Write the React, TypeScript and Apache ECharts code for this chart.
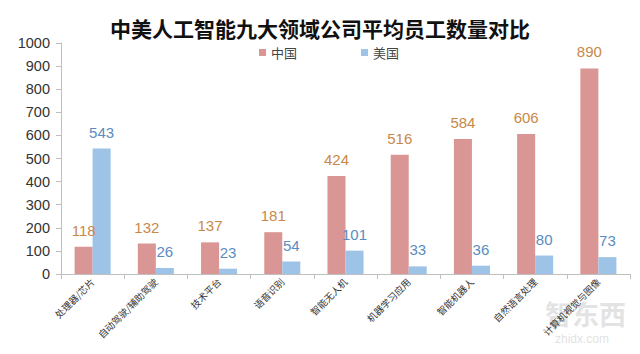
import React, { useEffect, useRef } from "react";
import * as echarts from "echarts";

const categories = ["处理器/芯片", "自动驾驶/辅助驾驶", "技术平台", "语音识别", "智能无人机", "机器学习应用", "智能机器人", "自然语言处理", "计算机视觉与图像"];
const chinaValues = [118, 132, 137, 181, 424, 516, 584, 606, 890];
const usValues = [543, 26, 23, 54, 101, 33, 36, 80, 73];
const yTicks = { min: 0, max: 1000, interval: 100 };

const FONT = "'Noto Sans CJK SC', 'Noto Sans', sans-serif";
const NUM_FONT = "'Liberation Sans Narrow', 'Liberation Sans', Arial, sans-serif";

export default function App() {
  const ref = useRef<HTMLDivElement>(null);
  useEffect(() => {
    if (!ref.current) return;
    const chart = echarts.init(ref.current, null, { renderer: "svg" });
    chart.setOption({
      animation: false,
      backgroundColor: "#ffffff",
      title: {
        text: "中美人工智能九大领域公司平均员工数量对比",
        left: "center",
        top: 12,
        textStyle: { fontFamily: FONT, fontSize: 21, fontWeight: "bold", color: "#111" },
      },
      legend: {
        top: 41,
        left: 254,
        itemWidth: 7,
        itemHeight: 7,
        itemGap: 64,
        icon: "rect",
        textStyle: { fontFamily: FONT, fontSize: 13, color: "#444" },
        data: ["中国", "美国"],
      },
      grid: { left: 61, right: 10, top: 43, bottom: 80, containLabel: false },
      xAxis: {
        type: "category",
        data: categories,
        axisLine: { lineStyle: { color: "#bfbfbf" } },
        axisTick: { show: true, length: 5, lineStyle: { color: "#bfbfbf" } },
        axisLabel: { rotate: 45, fontFamily: FONT, fontSize: 9.5, color: "#333", margin: 6 },
      },
      yAxis: {
        type: "value",
        min: yTicks.min,
        max: yTicks.max,
        interval: yTicks.interval,
        axisLine: { show: true, lineStyle: { color: "#bfbfbf" } },
        axisTick: { show: true, length: 5, lineStyle: { color: "#bfbfbf" } },
        splitLine: { show: false },
        axisLabel: {
          fontFamily: "'Liberation Sans', Arial, sans-serif",
          fontSize: 14.5,
          color: "#333",
          margin: 11,
          formatter: (v: number) => String(v),
        },
      },
      series: [
        {
          name: "中国",
          type: "bar",
          data: chinaValues,
          barGap: "0%",
          barCategoryGap: "43%",
          itemStyle: { color: "#d99694" },
          label: { show: true, position: "top", distance: 9, color: "#c8884a", fontSize: 15, fontFamily: NUM_FONT },
        },
        {
          name: "美国",
          type: "bar",
          data: usValues,
          itemStyle: { color: "#9dc3e6" },
          label: { show: true, position: "top", distance: 9, color: "#5a8cc0", fontSize: 15, fontFamily: NUM_FONT },
        },
      ],
      graphic: [
        {
          type: "text",
          left: 545,
          top: 300,
          silent: true,
          style: { text: "智东西", fontFamily: FONT, fontSize: 27, fill: "rgba(200,200,200,0.5)", fontWeight: "bold" },
        },
        {
          type: "text",
          left: 555,
          top: 333,
          silent: true,
          style: { text: "zhidx.com", fontFamily: NUM_FONT, fontSize: 12, fill: "rgba(200,200,200,0.55)" },
        },
      ],
    });
    return () => chart.dispose();
  }, []);
  return <div ref={ref} style={{ position: "absolute", left: 0, top: 0, width: 640, height: 354 }} />;
}
